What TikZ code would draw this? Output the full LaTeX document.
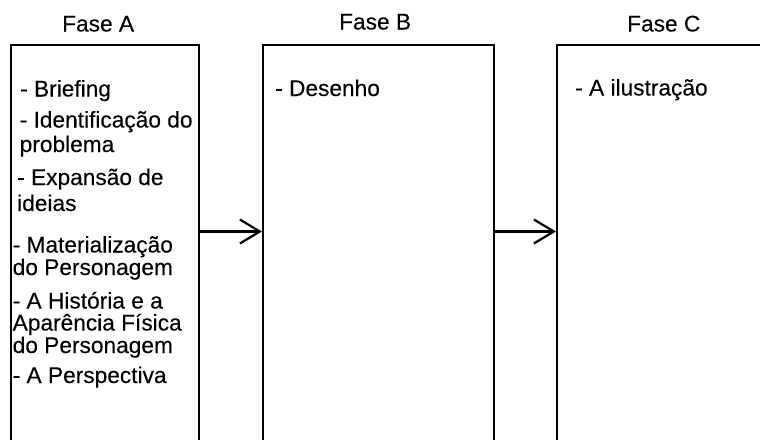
\documentclass[tikz,border=0pt]{standalone}
\usepackage{fontspec}
\setmainfont{Liberation Sans}
\newfontfamily\diagfont{Liberation Sans}[FakeBold=0.15]
\usetikzlibrary{arrows.meta}
\tikzset{
  phasebox/.style={draw=black, line width=2.2pt, fill=none, inner sep=0pt},
  title/.style={anchor=base west, inner sep=0pt, font=\diagfont\fontsize{22.7}{24}\selectfont},
  item/.style={anchor=base west, inner sep=0pt, font=\diagfont\fontsize{22.7}{24}\selectfont},
  flow/.style={line width=2.2pt, -{Straight Barb[length=20pt,width=24pt,line width=2.2pt]}}
}
\begin{document}
\begin{tikzpicture}[x=1pt,y=-1pt]
\useasboundingbox (0,0) rectangle (760,439);
\clip (0,0) rectangle (760,439);
\fill[white] (0,0) rectangle (760,439);
% boxes (extend past the bottom edge)
\node[phasebox, minimum width=188.5pt, minimum height=460pt, anchor=north west] (A) at (9.5,43.5) {};
\node[phasebox, minimum width=231pt, minimum height=460pt, anchor=north west] (B) at (262,43.5) {};
\node[phasebox, minimum width=260pt, minimum height=460pt, anchor=north west] (C) at (556,43.5) {};
% titles
\node[title] (tA) at (62,31.5) {Fase A};
\node[title] (tB) at (339,29.5) {Fase B};
\node[title] (tC) at (627,31.5) {Fase C};
% phase A items
\node[item] (a1) at (20,96.5) {- Briefing};
\node[item] (a2) at (19.5,127.5) {- Identificação do};
\node[item] (a3) at (19.5,152) {problema};
\node[item] (a4) at (17,185) {- Expansão de};
\node[item] (a5) at (17,211) {ideias};
\node[item] (a6) at (12.5,252.5) {- Materialização};
\node[item] (a7) at (12.5,275) {do Personagem};
\node[item] (a8) at (12.5,308.5) {- A História e a};
\node[item] (a9) at (12.5,330.5) {Aparência Física};
\node[item] (a10) at (12.5,353) {do Personagem};
\node[item] (a11) at (12.5,383) {- A Perspectiva};
% phase B and C items
\node[item] (b1) at (275,96) {- Desenho};
\node[item] (c1) at (575,95.5) {- A ilustração};
% connectors
\coordinate (ar1s) at (A.east |- 0,231.5);
\coordinate (ar1e) at (B.west |- 0,231.5);
\coordinate (ar2s) at (B.east |- 0,231.5);
\coordinate (ar2e) at (C.west |- 0,231.5);
\draw[flow] (ar1s) -- (ar1e);
\draw[flow] (ar2s) -- (ar2e);
\end{tikzpicture}
\end{document}
